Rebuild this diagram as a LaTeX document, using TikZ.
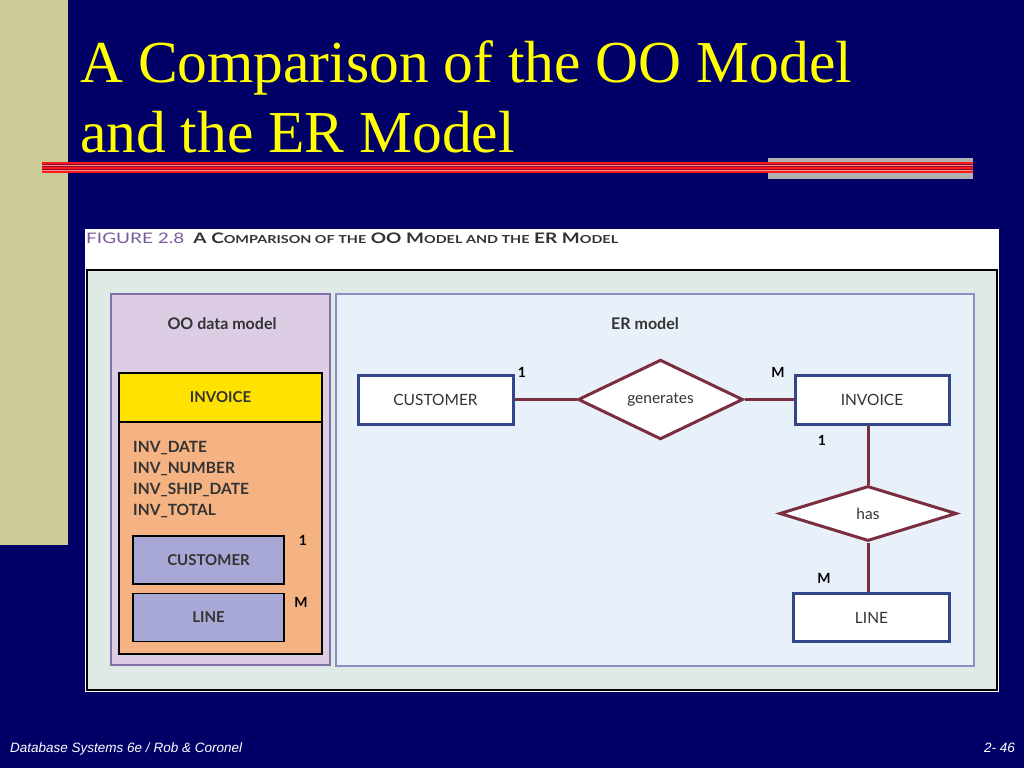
\documentclass[tikz,border=0pt]{standalone}
\usepackage{fontspec}
\setmainfont{Liberation Serif}
\newfontfamily\figfont{Lato}
\newfontfamily\footfont{Liberation Sans}
\usetikzlibrary{shapes.geometric}
\definecolor{navy}{HTML}{000066}
\definecolor{beige}{HTML}{CCCC99}
\definecolor{stripegray}{HTML}{B0B0B0}
\definecolor{darkred}{HTML}{8A0A2E}
\definecolor{brightred}{HTML}{FF1A1A}
\definecolor{pinkline}{HTML}{FF8C8C}
\definecolor{titleyellow}{HTML}{FFFF00}
\definecolor{figpurple}{HTML}{7A5A9E}
\definecolor{framefill}{HTML}{DFEAE6}
\definecolor{oofill}{HTML}{DCCCE4}
\definecolor{oobord}{HTML}{8070A8}
\definecolor{invyellow}{HTML}{FFE200}
\definecolor{invorange}{HTML}{F5B283}
\definecolor{ooblue}{HTML}{A8A8D6}
\definecolor{erfill}{HTML}{E8F1FA}
\definecolor{erbord}{HTML}{8C90C0}
\definecolor{entblue}{HTML}{34468A}
\definecolor{maroon}{HTML}{7A2E3E}
\definecolor{txtgray}{HTML}{333333}
\tikzset{
  oobox/.style={draw=black, line width=1.5, minimum width=151, minimum height=48, inner sep=0,
    fill=ooblue, font=\figfont\bfseries\fontsize{15}{18}\selectfont, text=txtgray},
  entity/.style={draw=entblue, line width=3, fill=white, inner sep=0,
    font=\figfont\fontsize{15.5}{18}\selectfont, text=txtgray},
  rel/.style={diamond, draw=maroon, line width=3, fill=white, inner sep=0,
    font=\figfont\fontsize{15.5}{18}\selectfont, text=txtgray},
  conn/.style={draw=maroon, line width=3},
  card/.style={font=\figfont\bfseries\fontsize{14}{16}\selectfont, text=black, inner sep=0},
  paneltitle/.style={font=\figfont\bfseries\fontsize{16}{18}\selectfont, text=txtgray, inner sep=0},
  titletext/.style={anchor=base west, inner sep=0, text=titleyellow, font=\fontsize{59.5}{70}\selectfont},
  foottext/.style={inner sep=0, text=white, font=\footfont\itshape\fontsize{13.5}{16}\selectfont},
}
\newcommand\smcap[1]{{\fontsize{11}{12}\selectfont #1}}
\begin{document}
\begin{tikzpicture}[x=1pt,y=-1pt]
\useasboundingbox (0,0) rectangle (1024,768);
\fill[navy] (0,0) rectangle (1024,768);
\fill[beige] (0,0) rectangle (68,545);
% title rule
\fill[stripegray] (768,158) rectangle (973,179);
\fill[darkred] (42,162) rectangle (973,173);
\draw[brightred, line width=1.5] (42,163) -- (973,163);
\draw[pinkline, line width=1] (42,165.7) -- (973,165.7);
\draw[brightred, line width=2.5] (42,168.2) -- (973,168.2);
\draw[pinkline, line width=1] (42,170.4) -- (973,170.4);
\draw[brightred, line width=1.5] (42,172.2) -- (973,172.2);
% title
\node[titletext] (t1) at (80,82) {A Comparison of the OO Model};
\node[titletext] (t2) at (80,152) {and the ER Model};
% figure area
\fill[white] (85,229) rectangle (999,692);
\node[anchor=base west, inner sep=0, font=\figfont] (cap) at (86,243.5)
  {\resizebox{532pt}{\height}{{\color{figpurple}\fontsize{14.5}{16}\selectfont FIGURE 2.8}\hspace{7pt}{\color{txtgray}\bfseries\fontsize{14.5}{16}\selectfont A C\smcap{OMPARISON OF THE} OO M\smcap{ODEL AND THE} ER M\smcap{ODEL}}}};
\draw[black, line width=2, fill=framefill] (87,270) rectangle (997,690);
% OO panel
\draw[oobord, line width=1.2, fill=oofill] (111,294) rectangle (330,665);
\node[paneltitle] (ootitle) at (222,324) {OO data model};
\draw[black, line width=1.5, fill=invorange] (119,422) rectangle (322,654);
\node[draw=black, line width=1.5, fill=invyellow, minimum width=203, minimum height=49, inner sep=0,
  font=\figfont\bfseries\fontsize{15}{18}\selectfont, text=txtgray] (ooinv) at (220.5,397.5) {INVOICE};
\node[anchor=north west, inner sep=0, align=left, text=txtgray,
  font=\figfont\bfseries\fontsize{15.5}{21}\selectfont] (attrs) at (133,441)
  {INV\_DATE\\INV\_NUMBER\\INV\_SHIP\_DATE\\INV\_TOTAL};
\node[oobox] (oocust) at (208.5,560) {CUSTOMER};
\node[oobox] (ooline) at (208.5,617.5) {LINE};
\node[card] (c1) at (303,540) {1};
\node[card] (cm) at (301,602) {M};
% ER panel
\draw[erbord, line width=1.2, fill=erfill] (336,294) rectangle (974,666);
\node[paneltitle] (ertitle) at (645,324) {ER model};
\node[entity, minimum width=155, minimum height=49] (cust) at (435.5,399.5) {CUSTOMER};
\node[entity, minimum width=154, minimum height=49] (inv) at (872,399.5) {INVOICE};
\node[entity, minimum width=156, minimum height=48] (line) at (871.5,617.5) {LINE};
\node[rel, minimum width=165, minimum height=57] (gen) at (660.5,399.5) {generates};
\node[rel, minimum width=177, minimum height=55] (has) at (868,513.5) {has};
\draw[conn] (cust.east) -- (gen.west);
\draw[conn] (gen.east) -- (inv.west);
\draw[conn] (inv.south -| has.north) -- (has.north);
\draw[conn] (has.south) -- (line.north -| has.south);
\node[card] (e1) at (522,372) {1};
\node[card] (em) at (778,372) {M};
\node[card] (e2) at (822,440) {1};
\node[card] (e3) at (824,578) {M};
% footer
\node[foottext, anchor=base west] (foot) at (10,752) {Database Systems 6e / Rob \& Coronel};
\node[foottext, anchor=base east] (page) at (1015,752) {2- 46};
\end{tikzpicture}
\end{document}
